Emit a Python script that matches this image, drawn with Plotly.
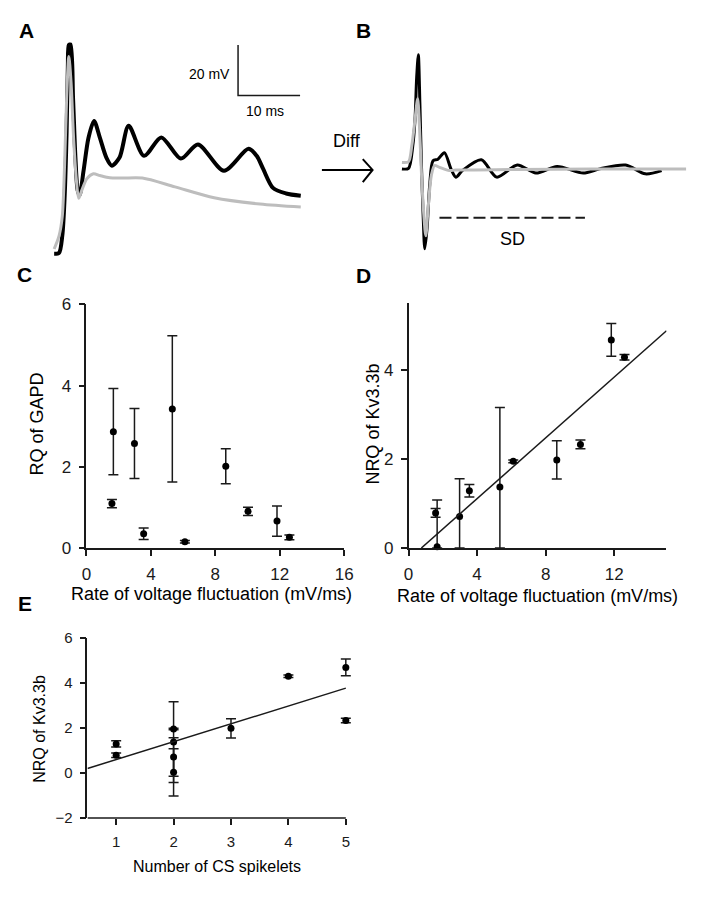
import numpy as np
import plotly.graph_objects as go

PAGE_W, PAGE_H = 707, 900
OFF = 8  # default page margin around the figure
W, H = PAGE_W - 2 * OFF, PAGE_H - 2 * OFF
FONT = "Liberation Sans, Arial, sans-serif"
INK = "#1a1a1a"
GRAY = "#bdbdbd"

# ---------------- Panel A: voltage traces (ms, mV) ----------------
a_black_t = [0, 0.79, 1.31, 1.69, 2.01, 2.21, 2.37, 2.64, 3.05, 3.43, 3.79, 4.11, 4.74, 5.53,
             6.43, 7.38, 8.42, 9.30, 10.54, 12.01, 14.49, 17.27, 20.43, 23.18, 27.38, 31.33,
             32.65, 33.70, 35.28, 37.39, 39.76]
a_black_v = [0, 0.4, 7.1, 22.6, 48.4, 74.4, 82.7, 82.9, 61.4, 38.1, 25.2, 23.3, 32.9, 45.9,
             52.6, 45.9, 38.1, 34.9, 38.1, 50.7, 38.8, 46.1, 37.7, 43.3, 32.9, 41.6,
             38.8, 33.6, 26.1, 23.9, 23.0]
a_gray_t = [0, 0.79, 1.31, 1.69, 2.01, 2.37, 2.73, 3.16, 3.59, 3.95, 4.47, 5.26, 6.32, 7.38,
            8.96, 11.06, 14.22, 19.48, 25.80, 33.18, 39.76]
a_gray_v = [1.9, 7.1, 14.8, 35.7, 61.4, 78.2, 67.8, 44.6, 29.1, 22.0, 25.2, 29.7, 31.7, 31.0,
            30.1, 30.0, 30.0, 26.5, 22.2, 19.7, 18.5]
scale_origin = (29.65, 62.7)
scale_ms = 10
scale_mv = 20

# ---------------- Panel B: difference traces ----------------
b_black_t = [0, 1.06, 1.74, 2.10, 2.37, 2.64, 2.89, 3.16, 3.43, 3.68, 4.06, 4.47, 5.01, 5.80,
             6.84, 7.90, 8.69, 9.75, 12.80, 15.28, 18.59, 21.60, 25.01, 29.23, 31.86, 36.07,
             39.23, 41.86]
b_black_v = [0.27, 0.5, 9.3, 19.7, 36.4, 45.5, 26.1, 0.27, -19.1, -31.4, -23.0, -6.2, 3.5, 4.1,
             6.7, 0.27, -3.0, -0.4, 3.9, -3.0, 1.8, -1.4, 1.2, -1.4, 0.27, 1.8,
             -1.7, -0.4]
b_gray_t = [0, 1.06, 1.58, 2.10, 2.53, 2.80, 3.16, 3.52, 3.84, 4.22, 4.74, 5.26, 6.05, 7.63,
            8.69, 18.17, 30.81, 45.81]
b_gray_v = [2.8, 3.1, 9.3, 19.7, 28.0, 18.3, -2.3, -17.8, -26.2, -15.2, -2.3, 1.6, 0.9, -0.4,
            -0.2, 0.0, 0.2, 0.2]
sd_t = [6.05, 29.5]
sd_v = [-19.1, -19.1]

# ---------------- Panels C, D, E: samples ----------------
rate = [1.67, 1.58, 2.98, 3.55, 5.33, 6.11, 8.65, 10.03, 11.83, 12.60]
rq_gapd = [2.87, 1.10, 2.58, 0.36, 3.43, 0.16, 2.02, 0.91, 0.67, 0.27]
rq_err = [1.06, 0.10, 0.86, 0.14, 1.80, 0.03, 0.43, 0.10, 0.37, 0.06]
nrq_kv = [0.03, 0.79, 0.71, 1.29, 1.37, 1.95, 1.98, 2.33, 4.68, 4.29]
nrq_err = [1.05, 0.10, 0.85, 0.14, 1.79, 0.03, 0.43, 0.10, 0.37, 0.06]
spikelets = [2, 1, 2, 1, 2, 2, 3, 5, 5, 4]


def px2x(px):
    return min(1.0, max(0.0, (px - OFF) / W))


def py2y(py):
    return min(1.0, max(0.0, 1 - (py - OFF) / H))


fig = go.Figure()

# Panel A
fig.add_trace(go.Scatter(x=a_black_t, y=a_black_v, mode="lines", xaxis="x", yaxis="y",
                         line=dict(color="#000000", width=4, shape="spline", smoothing=0.8)))
fig.add_trace(go.Scatter(x=a_gray_t, y=a_gray_v, mode="lines", xaxis="x", yaxis="y",
                         line=dict(color=GRAY, width=3, shape="spline", smoothing=0.8)))
x0, y0 = scale_origin
fig.add_trace(go.Scatter(x=[x0, x0, x0 + scale_ms], y=[y0 + scale_mv, y0, y0], mode="lines",
                         xaxis="x", yaxis="y", line=dict(color=INK, width=1.5)))

# Panel B
fig.add_trace(go.Scatter(x=b_black_t, y=b_black_v, mode="lines", xaxis="x2", yaxis="y2",
                         line=dict(color="#000000", width=3, shape="spline", smoothing=0.8)))
fig.add_trace(go.Scatter(x=b_gray_t, y=b_gray_v, mode="lines", xaxis="x2", yaxis="y2",
                         line=dict(color=GRAY, width=3, shape="spline", smoothing=0.8)))
fig.add_trace(go.Scatter(x=sd_t, y=sd_v, mode="lines", xaxis="x2", yaxis="y2",
                         line=dict(color=INK, width=2, dash="12px,5px")))

err_style = dict(type="data", color=INK, thickness=1.5, width=5, visible=True)
mk = dict(color="#000000", size=7)

# Panel C
fig.add_trace(go.Scatter(x=rate, y=rq_gapd, mode="markers", xaxis="x3", yaxis="y3",
                         marker=mk, cliponaxis=False,
                         error_y=dict(array=rq_err, **err_style)))

# Panel D
nrq = np.array(nrq_kv)
nerr = np.array(nrq_err)
d_ymin = 0.0
err_minus = np.minimum(nerr, nrq - d_ymin)
fig.add_trace(go.Scatter(x=rate, y=nrq_kv, mode="markers", xaxis="x4", yaxis="y4",
                         marker=mk, cliponaxis=False,
                         error_y=dict(array=nerr, arrayminus=err_minus, symmetric=False, **err_style)))
slope_d, icpt_d = np.polyfit(rate, nrq_kv, 1)
d_xmax = 15.05
d_x0 = -icpt_d / slope_d
fig.add_trace(go.Scatter(x=[d_x0, d_xmax], y=[slope_d * d_x0 + icpt_d, slope_d * d_xmax + icpt_d],
                         mode="lines", xaxis="x4", yaxis="y4", line=dict(color=INK, width=1.5)))

# Panel E
fig.add_trace(go.Scatter(x=spikelets, y=nrq_kv, mode="markers", xaxis="x5", yaxis="y5",
                         marker=mk, cliponaxis=False,
                         error_y=dict(array=nrq_err, **err_style)))
e_xmin, e_xmax = 0.5, 5.0
slope_e, icpt_e = np.polyfit(spikelets, nrq_kv, 1)
e_x = np.array([e_xmin, e_xmax])
fig.add_trace(go.Scatter(x=e_x, y=slope_e * e_x + icpt_e, mode="lines", xaxis="x5", yaxis="y5",
                         line=dict(color=INK, width=1.5)))


def hidden(domain_px, rng, vertical=False):
    if vertical:
        dom = [py2y(domain_px[1]), py2y(domain_px[0])]
    else:
        dom = [px2x(domain_px[0]), px2x(domain_px[1])]
    return dict(domain=dom, range=rng, visible=False, fixedrange=True)


def axis(domain_px, rng, dtick, tick0, vertical, anchor, fsize, showline=True):
    if vertical:
        dom = [py2y(domain_px[1]), py2y(domain_px[0])]
    else:
        dom = [px2x(domain_px[0]), px2x(domain_px[1])]
    return dict(domain=dom, range=rng, anchor=anchor, showline=showline, linewidth=1.5,
                linecolor=INK, ticks="outside", ticklen=6, tickwidth=1.5, tickcolor=INK,
                showgrid=False, zeroline=False, dtick=dtick, tick0=tick0,
                tickfont=dict(family=FONT, size=fsize, color=INK), fixedrange=True,
                ticklabelstandoff=4)


# E x-axis: range padded so end error caps are not clipped
e_pad = 0.15
e_px0, e_px1 = 84, 347.7
e_px1_pad = e_px1 + (e_px1 - e_px0) / (e_xmax - e_xmin) * e_pad

layout = dict(
    width=W, height=H, margin=dict(l=0, r=0, t=0, b=0),
    paper_bgcolor="white", plot_bgcolor="rgba(0,0,0,0)", showlegend=False,
    font=dict(family=FONT, color=INK),
    xaxis=dict(hidden((40, 310), [-1.58, 41.07]), anchor="y"),
    yaxis=dict(hidden((30, 255), [-1.94, 85.27], True), anchor="x"),
    xaxis2=dict(hidden((400, 699), [-0.79, 46.44]), anchor="y2"),
    yaxis2=dict(hidden((30, 255), [-35.3, 51.9], True), anchor="x2"),
    xaxis3=axis((83, 346), [0, 16], 4, 0, False, "y3", 17),
    yaxis3=axis((301.7, 551), [0, 6], 2, 0, True, "x3", 17),
    xaxis4=axis((411.7, 675), [0, d_xmax], 4, 0, False, "y4", 17),
    yaxis4=axis((300.7, 550.7), [0, 5.5], 2, 0, True, "x4", 17),
    xaxis5=axis((e_px0, e_px1_pad), [e_xmin, e_xmax + e_pad], 1, 0, False, "y5", 15, showline=False),
    yaxis5=axis((642.3, 826.7), [-2, 6], 2, 0, True, "x5", 15),
)
fig.update_layout(**layout)

# E bottom axis line ending at the last tick
fig.add_shape(type="line", xref="x5", yref="y5 domain", x0=e_xmin, x1=e_xmax, y0=0, y1=0,
              line=dict(color=INK, width=1.5), layer="above")

ann = []


def txt(text, px, py, size, bold=False, angle=0, xanchor="center", yanchor="middle"):
    ann.append(dict(text=("<b>%s</b>" % text) if bold else text, x=px2x(px), y=py2y(py),
                    xref="paper", yref="paper", showarrow=False, textangle=angle,
                    xanchor=xanchor, yanchor=yanchor,
                    font=dict(family=FONT, size=size, color="#000000")))


# panel letters
txt("A", 22, 22, 21, bold=True)
txt("B", 366, 22, 21, bold=True)
txt("C", 20, 271, 21, bold=True)
txt("D", 366, 272, 21, bold=True)
txt("E", 20, 607, 21, bold=True)
# panel A/B labels
txt("20 mV", 232, 66, 14, xanchor="right")
txt("10 ms", 265, 104, 14)
txt("Diff", 349, 135, 18)
txt("SD", 518, 235, 18)
# axis titles
txt("Rate of voltage fluctuation (mV/ms)", 211, 598, 18)
txt("RQ of GAPD", 33, 424, 18, angle=-90)
txt("Rate of voltage fluctuation (mV/ms)", 543, 600, 18)
txt("NRQ of Kv3.3b", 375, 424, 18, angle=-90)
txt("Number of CS spikelets", 216, 876, 16)
txt("NRQ of Kv3.3b", 35, 735, 16, angle=-90)
fig.update_layout(annotations=ann)


# "Diff" arrow
def P(px, py):
    return "%f,%f" % (px2x(px), py2y(py))


fig.add_shape(type="path", xref="paper", yref="paper",
              path="M %s L %s" % (P(323.3, 164.3), P(375, 164.3)),
              line=dict(color="#000000", width=2))
fig.add_shape(type="path", xref="paper", yref="paper",
              path="M %s L %s L %s" % (P(365, 153.3), P(375, 164.3), P(365, 176.7)),
              line=dict(color="#000000", width=2))

fig.write_html("out.html", config={"displayModeBar": False})
